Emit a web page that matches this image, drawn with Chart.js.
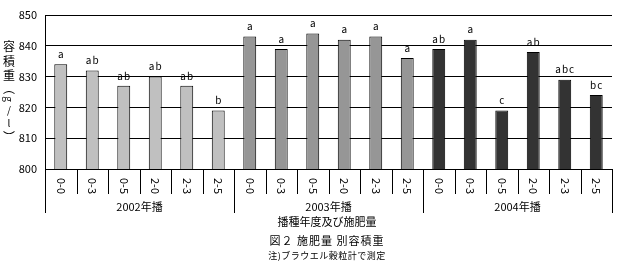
<!DOCTYPE html>
<html>
<head>
<meta charset="utf-8">
<script src="https://cdn.jsdelivr.net/npm/chart.js@4/dist/chart.umd.min.js"></script>
<style>
  html, body { margin: 0; padding: 0; background: #fff; }
  #wrap { width: 627px; height: 268px; }
</style>
</head>
<body>
<div id="wrap"><canvas id="c" width="627" height="268"></canvas></div>
<script>
// Fertilizer treatments (N-P) within each sowing year
const treatments = ['0-0', '0-3', '0-5', '2-0', '2-3', '2-5'];
const years = ['2002年播', '2003年播', '2004年播'];

// Bulk density (g/l) per treatment, by sowing year
const bulk2002 = [834, 832, 827, 830, 827, 819];
const bulk2003 = [843, 839, 844, 842, 843, 836];
const bulk2004 = [839, 842, 819, 838, 829, 824];

// Significance letters shown above bars
const sig2002 = ['a', 'ab', 'ab', 'ab', 'ab', 'b'];
const sig2003 = ['a', 'a', 'a', 'a', 'a', 'a'];
const sig2004 = ['ab', 'a', 'c', 'ab', 'abc', 'bc'];

const yTicks = [800, 810, 820, 830, 840, 850];

const yearColors = ['#c0c0c0', '#969696', '#333333'];

const labels = [];
const values = [];
const letters = [];
const colors = [];
[bulk2002, bulk2003, bulk2004].forEach((arr, g) => {
  arr.forEach((v, i) => {
    labels.push(years[g] + ' ' + treatments[i]);
    values.push(v);
    letters.push([sig2002, sig2003, sig2004][g][i]);
    colors.push(yearColors[g]);
  });
});

const FONT = '"Noto Sans CJK JP", "DejaVu Sans", sans-serif';

// y-axis title glyphs, written vertically; Latin "g" is turned sideways
const yTitle = [
  { ch: '容', y: 46 }, { ch: '積', y: 61 }, { ch: '重', y: 75 },
  { ch: '︵', y: 88 }, { ch: 'g', y: 99, rot: true }, { ch: '/', y: 110 },
  { ch: 'l', y: 123 }, { ch: '︶', y: 137 }
];

const annotate = {
  id: 'annotate',
  afterDatasetsDraw(chart) {
    const ctx = chart.ctx;
    const meta = chart.getDatasetMeta(0);
    ctx.save();
    ctx.fillStyle = '#000';
    ctx.font = '10px ' + FONT;
    ctx.letterSpacing = '1px';
    ctx.textAlign = 'center';
    ctx.textBaseline = 'bottom';
    meta.data.forEach((bar, i) => {
      ctx.fillText(letters[i], bar.x + 0.5, bar.y - 5);
    });
    ctx.restore();
  },
  afterDraw(chart) {
    const ctx = chart.ctx;
    const x = chart.scales.x;
    const area = chart.chartArea;
    const n = labels.length;
    const step = (area.right - area.left) / n;
    ctx.save();
    ctx.strokeStyle = '#000';
    ctx.lineWidth = 1;

    // separators under the axis
    for (let k = 0; k <= n; k++) {
      const px = Math.round(area.left + k * step) + 0.5;
      const long = k % treatments.length === 0;
      ctx.beginPath();
      ctx.moveTo(px, area.bottom);
      ctx.lineTo(px, long ? area.bottom + 44 : area.bottom + 25);
      ctx.stroke();
    }

    // treatment labels, rotated
    ctx.fillStyle = '#000';
    ctx.font = '11px ' + FONT;
    ctx.textAlign = 'center';
    ctx.textBaseline = 'middle';
    for (let i = 0; i < n; i++) {
      const cx = x.getPixelForValue(i);
      ctx.save();
      ctx.translate(cx, area.bottom + 17);
      ctx.rotate(Math.PI / 2);
      ctx.fillText(treatments[i % treatments.length], 0, 0);
      ctx.restore();
    }

    // year group labels
    ctx.font = '11px ' + FONT;
    years.forEach((y, g) => {
      const l = area.left + g * 6 * step;
      const r = l + 6 * step;
      ctx.fillText(y, (l + r) / 2, area.bottom + 38);
    });

    // axis title and captions
    const mid = 327;
    ctx.font = '11px ' + FONT;
    ctx.fillText('播種年度及び施肥量', mid, area.bottom + 53);
    ctx.save();
    ctx.font = '11px ' + FONT;
    ctx.letterSpacing = '1px';
    ctx.fillText('図２ 施肥量 別容積重', mid, area.bottom + 72);
    ctx.font = '9px ' + FONT;
    ctx.letterSpacing = '0.5px';
    ctx.fillText('注)ブラウエル穀粒計で測定', mid, area.bottom + 87);
    ctx.restore();

    // vertical y-axis title
    const ax = 9;
    yTitle.forEach(t => {
      ctx.save();
      ctx.font = (t.ch.length && /[A-Za-z\/]/.test(t.ch) ? '10px ' : '12px ') + FONT;
      ctx.translate(ax, t.y);
      if (t.rot) ctx.rotate(Math.PI / 2);
      ctx.fillText(t.ch, 0, 0);
      ctx.restore();
    });

    ctx.restore();
  }
};

new Chart(document.getElementById('c'), {
  type: 'bar',
  data: {
    labels: labels,
    datasets: [{
      data: values,
      backgroundColor: colors,
      borderColor: '#000',
      borderWidth: 1,
      borderSkipped: 'bottom',
      categoryPercentage: 1.0,
      barPercentage: 0.41
    }]
  },
  options: {
    responsive: false,
    animation: false,
    devicePixelRatio: 1,
    layout: { padding: { left: 0, right: 15, top: 15, bottom: 99 } },
    plugins: {
      legend: { display: false },
      tooltip: { enabled: false }
    },
    scales: {
      x: {
        ticks: { display: false },
        grid: { display: false },
        border: { display: true, color: '#000', width: 1 },
        afterFit(s) { s.height = 0; }
      },
      y: {
        min: 800,
        max: 850,
        afterBuildTicks(s) { s.ticks = yTicks.map(v => ({ value: v })); },
        afterFit(s) { s.width = 45; },
        ticks: {
          color: '#000',
          font: { family: FONT, size: 11 },
          padding: 8
        },
        grid: { color: '#000', lineWidth: 1, drawTicks: false },
        border: { display: true, color: '#000', width: 1 }
      }
    }
  },
  plugins: [annotate]
});
</script>
</body>
</html>
